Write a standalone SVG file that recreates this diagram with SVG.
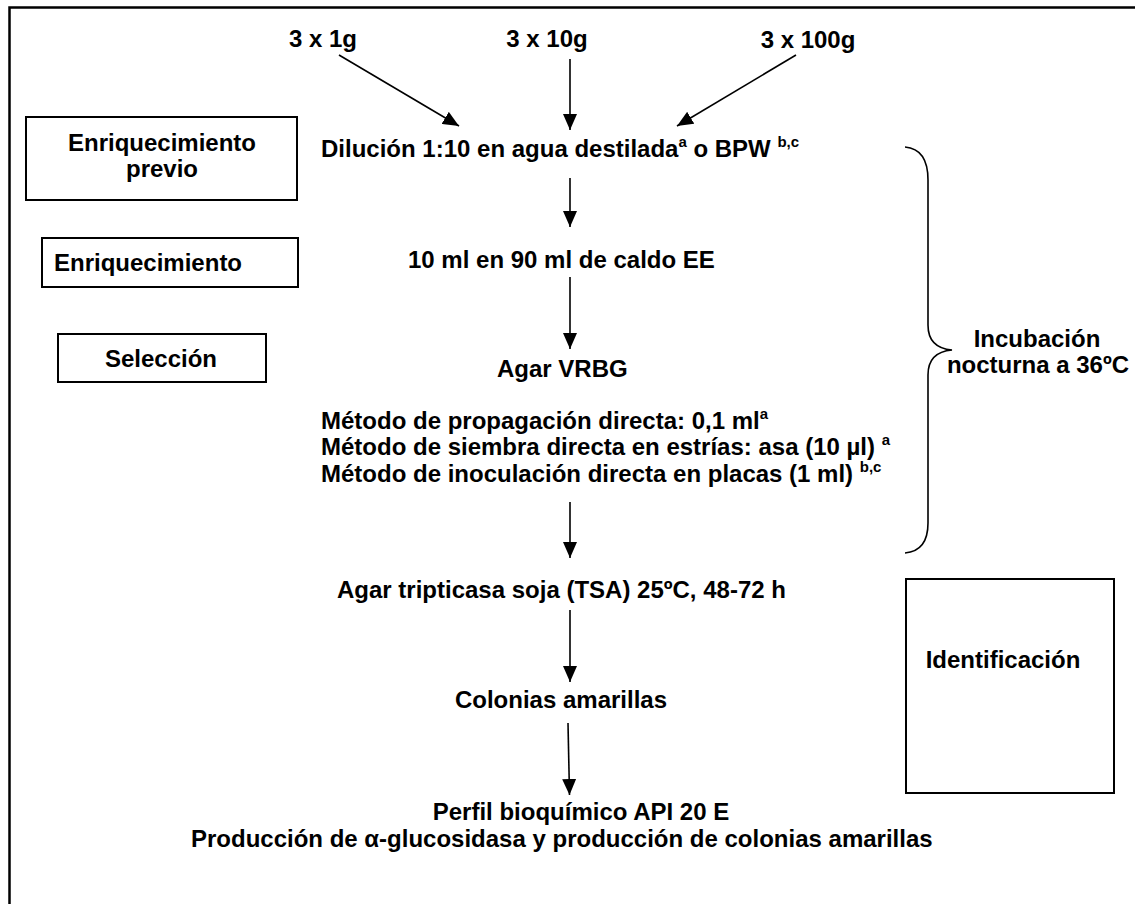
<svg xmlns="http://www.w3.org/2000/svg" width="1135" height="904" viewBox="0 0 1135 904">
<style>
text{font-family:"Liberation Sans",Arial,sans-serif;font-weight:bold;font-size:24px;fill:#000}
.c{text-anchor:middle}
.box{fill:#fff;stroke:#000;stroke-width:2}
.ln{stroke:#000;stroke-width:1.6;fill:none}
.sup{font-size:15px}
</style>
<defs>
<marker id="ah" viewBox="0 0 16 14" refX="16" refY="7" markerWidth="16" markerHeight="14" markerUnits="userSpaceOnUse" orient="auto">
<path d="M0,0 L16,7 L0,14 z" fill="#000"/>
</marker>
</defs>
<rect x="0" y="0" width="1135" height="904" fill="#fff"/>
<path d="M9.5,910 L9.5,7.5 L1140,7.5" fill="none" stroke="#000" stroke-width="2.5"/>

<g id="connectors">
<line class="ln" x1="339" y1="55" x2="459" y2="126" marker-end="url(#ah)"/>
<line class="ln" x1="570" y1="59" x2="570" y2="130" marker-end="url(#ah)"/>
<line class="ln" x1="796" y1="55" x2="677" y2="126" marker-end="url(#ah)"/>
<line class="ln" x1="570" y1="178" x2="570" y2="227" marker-end="url(#ah)"/>
<line class="ln" x1="570" y1="277" x2="570" y2="349" marker-end="url(#ah)"/>
<line class="ln" x1="570" y1="502" x2="570" y2="558" marker-end="url(#ah)"/>
<line class="ln" x1="570" y1="610" x2="570" y2="682" marker-end="url(#ah)"/>
<line class="ln" x1="568" y1="723" x2="569.5" y2="795" marker-end="url(#ah)"/>
<path id="brace" class="ln" d="M905,147 Q928,149 928,180 L928,325 Q928,348 952,350 Q928,352 928,375 L928,523 Q928,551 905,553"/>
</g>

<g id="src1"><text class="c" x="323" y="47">3 x 1g</text></g>
<g id="src2"><text class="c" x="547" y="47">3 x 10g</text></g>
<g id="src3"><text class="c" x="808" y="48">3 x 100g</text></g>

<g id="lbl-preenrich"><rect class="box" x="26" y="117" width="271" height="83"/>
<text class="c" x="162" y="151">Enriquecimiento</text>
<text class="c" x="162" y="177">previo</text></g>

<g id="lbl-enrich"><rect class="box" x="42" y="238" width="256" height="49"/>
<text x="54" y="271">Enriquecimiento</text></g>

<g id="lbl-select"><rect class="box" x="58" y="334" width="208" height="48"/>
<text class="c" x="161" y="367">Selección</text></g>

<g id="lbl-ident"><rect class="box" x="906" y="579" width="208" height="214"/>
<text class="c" x="1003" y="668">Identificación</text></g>

<g id="lbl-incub">
<text class="c" x="1037" y="347">Incubación</text>
<text class="c" x="1038" y="373">nocturna a 36ºC</text></g>

<g id="n-dilution"><text x="321" y="157">Dilución 1:10 en agua destilada<tspan class="sup" dy="-10">a</tspan><tspan dy="10"> o BPW </tspan><tspan class="sup" dy="-10">b,c</tspan></text></g>

<g id="n-ee"><text x="408" y="268">10 ml en 90 ml de caldo EE</text></g>

<g id="n-vrbg"><text x="497" y="377">Agar VRBG</text></g>

<g id="n-methods">
<text x="321" y="429">Método de propagación directa: 0,1 ml<tspan class="sup" dy="-10">a</tspan></text>
<text x="321" y="455">Método de siembra directa en estrías: asa (10 µl) <tspan class="sup" dy="-10">a</tspan></text>
<text x="321" y="482">Método de inoculación directa en placas (1 ml) <tspan class="sup" dy="-10">b,c</tspan></text>
</g>

<g id="n-tsa"><text x="337" y="598">Agar tripticasa soja (TSA) 25ºC, 48-72 h</text></g>

<g id="n-colonias"><text class="c" x="561" y="708">Colonias amarillas</text></g>

<g id="n-api">
<text class="c" x="581" y="820">Perfil bioquímico API 20 E</text>
<text x="191" y="847">Producción de α-glucosidasa y producción de colonias amarillas</text>
</g>
</svg>
